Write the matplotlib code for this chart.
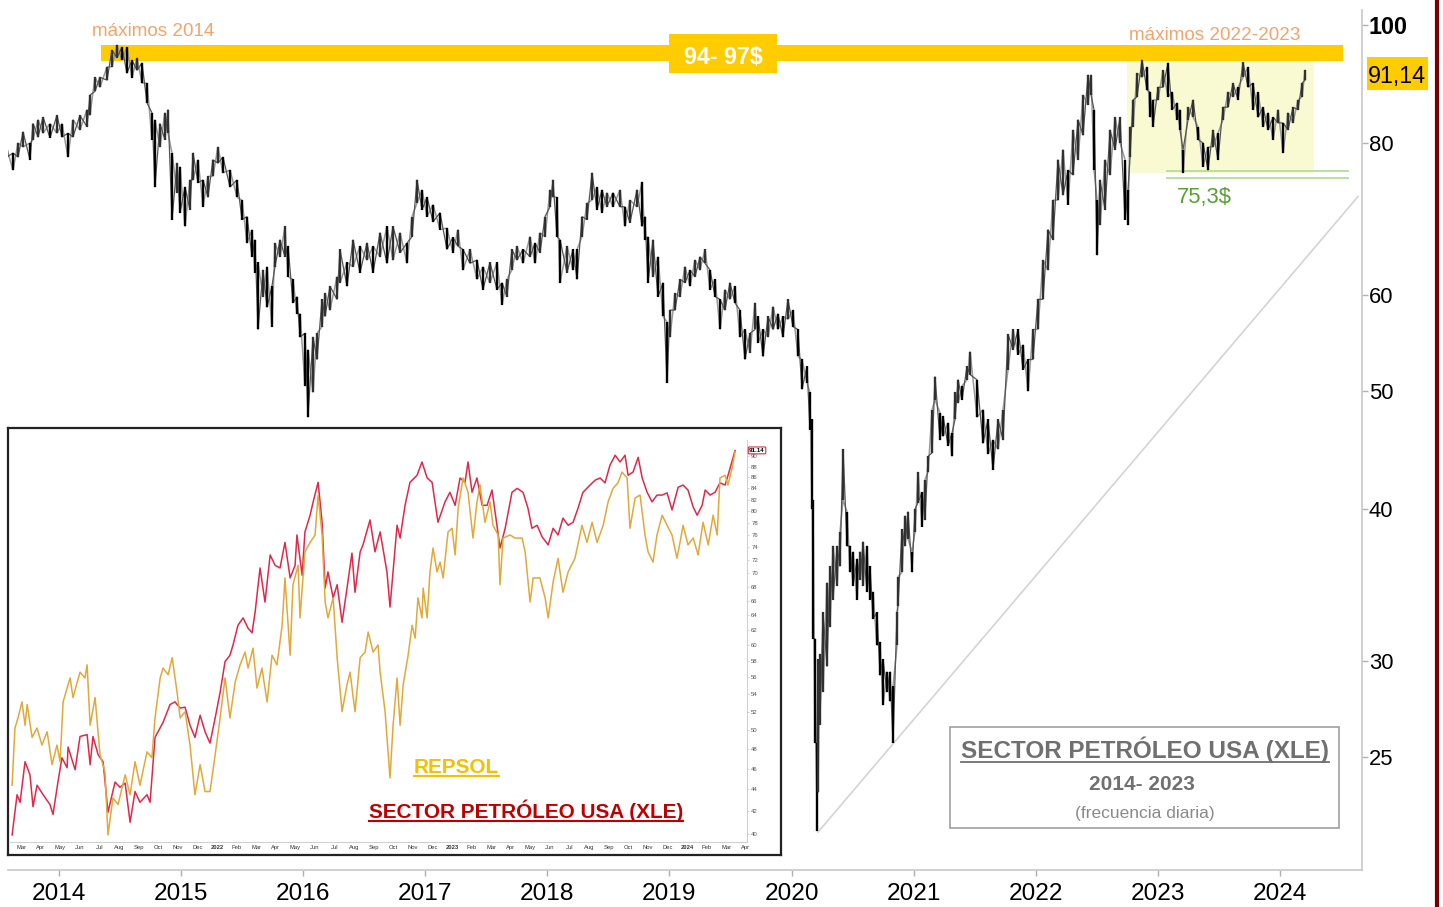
import numpy as np
import matplotlib
matplotlib.use('Agg')
import matplotlib.pyplot as plt
from matplotlib import font_manager
from matplotlib.patches import Rectangle
from matplotlib.lines import Line2D
from matplotlib.ticker import NullLocator

# ---------------- datos: XLE diario (max / min aprox.) ----------------
xle_t = [2013.577, 2013.626, 2013.667, 2013.708, 2013.765, 2013.790, 2013.831, 2013.872, 2013.929, 2013.986,
         2014.027, 2014.076, 2014.117, 2014.174, 2014.232, 2014.256, 2014.297, 2014.338, 2014.396, 2014.436,
         2014.477, 2014.518, 2014.559, 2014.600, 2014.641, 2014.682, 2014.723, 2014.764, 2014.788, 2014.829,
         2014.870, 2014.895, 2014.928, 2014.969, 2014.993, 2015.034, 2015.075, 2015.100, 2015.141, 2015.182,
         2015.222, 2015.263, 2015.304, 2015.345, 2015.403, 2015.460, 2015.501, 2015.542, 2015.583, 2015.607,
         2015.632, 2015.673, 2015.706, 2015.746, 2015.771, 2015.812, 2015.853, 2015.878, 2015.918, 2015.951,
         2015.976, 2016.017, 2016.041, 2016.082, 2016.115, 2016.156, 2016.181, 2016.221, 2016.279, 2016.303,
         2016.361, 2016.410, 2016.467, 2016.524, 2016.574, 2016.631, 2016.688, 2016.737, 2016.795, 2016.852,
         2016.893, 2016.934, 2016.975, 2017.016, 2017.065, 2017.122, 2017.179, 2017.228, 2017.269, 2017.310,
         2017.368, 2017.425, 2017.474, 2017.531, 2017.589, 2017.630, 2017.670, 2017.711, 2017.752, 2017.802,
         2017.859, 2017.900, 2017.941, 2017.982, 2018.023, 2018.047, 2018.080, 2018.105, 2018.162, 2018.211,
         2018.244, 2018.285, 2018.326, 2018.367, 2018.407, 2018.448, 2018.489, 2018.538, 2018.596, 2018.636,
         2018.677, 2018.735, 2018.776, 2018.800, 2018.825, 2018.866, 2018.907, 2018.948, 2018.981, 2019.005,
         2019.046, 2019.087, 2019.128, 2019.169, 2019.210, 2019.251, 2019.292, 2019.333, 2019.374, 2019.415,
         2019.455, 2019.496, 2019.537, 2019.578, 2019.619, 2019.660, 2019.701, 2019.726, 2019.767, 2019.808,
         2019.849, 2019.889, 2019.930, 2019.971, 2020.012, 2020.053, 2020.086, 2020.127, 2020.151, 2020.168,
         2020.176, 2020.192, 2020.209, 2020.217, 2020.233, 2020.258, 2020.291, 2020.315, 2020.340, 2020.373,
         2020.397, 2020.422, 2020.455, 2020.479, 2020.504, 2020.537, 2020.561, 2020.586, 2020.618, 2020.643,
         2020.667, 2020.700, 2020.725, 2020.749, 2020.782, 2020.807, 2020.831, 2020.864, 2020.872, 2020.905,
         2020.930, 2020.954, 2020.987, 2021.011, 2021.036, 2021.069, 2021.093, 2021.118, 2021.151, 2021.175,
         2021.216, 2021.241, 2021.282, 2021.314, 2021.339, 2021.364, 2021.396, 2021.437, 2021.462, 2021.519,
         2021.568, 2021.609, 2021.650, 2021.691, 2021.732, 2021.773, 2021.814, 2021.855, 2021.896, 2021.937,
         2021.977, 2022.018, 2022.059, 2022.100, 2022.141, 2022.182, 2022.223, 2022.264, 2022.305, 2022.346,
         2022.387, 2022.428, 2022.453, 2022.477, 2022.502, 2022.526, 2022.567, 2022.608, 2022.649, 2022.690,
         2022.731, 2022.755, 2022.772, 2022.796, 2022.829, 2022.870, 2022.911, 2022.936, 2022.960, 2023.001,
         2023.042, 2023.083, 2023.116, 2023.157, 2023.181, 2023.206, 2023.247, 2023.288, 2023.329, 2023.370,
         2023.410, 2023.451, 2023.492, 2023.533, 2023.574, 2023.615, 2023.656, 2023.697, 2023.738, 2023.779,
         2023.820, 2023.861, 2023.902, 2023.943, 2023.984, 2024.025, 2024.065, 2024.106, 2024.147, 2024.180,
         2024.205]
xle_hi = [79.0, 78.5, 80.0, 81.7, 80.0, 83.0, 83.6, 84.0, 83.0, 84.3,
          83.0, 81.5, 83.6, 84.3, 85.2, 87.6, 90.6, 90.6, 92.4, 95.4,
          96.3, 95.9, 95.9, 93.6, 94.0, 93.1, 89.6, 84.7, 83.6, 83.0,
          84.7, 85.2, 78.5, 77.0, 76.5, 73.6, 74.6, 78.5, 77.5, 74.6,
          75.1, 77.5, 79.4, 77.9, 76.0, 74.6, 71.8, 69.6, 67.9, 66.6,
          63.8, 62.9, 63.3, 61.0, 66.2, 66.6, 68.3, 65.8, 61.8, 59.8,
          57.9, 55.8, 54.1, 55.4, 55.8, 59.5, 60.2, 61.0, 62.1, 65.4,
          63.8, 66.6, 65.8, 66.2, 65.8, 67.5, 68.3, 68.3, 67.5, 66.2,
          69.6, 74.6, 73.2, 72.2, 71.2, 70.1, 68.1, 66.9, 67.9, 65.4,
          65.4, 64.1, 63.3, 63.8, 63.8, 61.4, 61.8, 65.4, 65.8, 65.4,
          67.0, 66.2, 67.5, 69.6, 73.2, 74.6, 72.2, 66.6, 65.8, 65.4,
          65.4, 69.6, 71.4, 75.6, 73.6, 73.2, 72.8, 72.8, 73.2, 70.9,
          71.8, 73.2, 74.3, 69.6, 67.0, 66.6, 64.5, 61.4, 57.0, 58.3,
          60.2, 61.8, 63.3, 62.9, 64.1, 64.5, 65.4, 62.9, 61.8, 59.5,
          60.6, 61.4, 61.0, 58.3, 56.2, 55.8, 59.1, 57.6, 56.2, 57.6,
          58.7, 57.9, 57.6, 59.5, 58.3, 56.2, 53.1, 52.4, 49.9, 47.4,
          40.7, 31.3, 25.7, 30.1, 30.4, 32.9, 34.8, 35.9, 37.3, 37.3,
          38.3, 44.8, 39.8, 37.3, 36.9, 36.4, 36.9, 37.6, 37.3, 35.9,
          34.2, 32.9, 31.1, 30.1, 29.4, 29.4, 28.6, 32.9, 35.2, 38.5,
          39.5, 39.8, 36.9, 40.0, 42.9, 41.3, 42.3, 44.2, 48.3, 51.4,
          48.0, 47.7, 47.1, 46.2, 49.9, 51.1, 50.5, 52.4, 53.9, 51.1,
          48.3, 47.4, 45.6, 47.4, 48.3, 55.7, 56.2, 56.2, 54.6, 53.1,
          56.2, 59.5, 64.1, 67.9, 71.8, 77.5, 79.0, 76.0, 82.0, 83.6,
          87.6, 91.0, 91.0, 85.2, 71.8, 74.6, 77.5, 82.0, 84.0, 84.0,
          77.5, 73.2, 82.5, 86.8, 91.3, 93.6, 92.4, 88.1, 86.8, 88.9,
          91.8, 93.1, 88.1, 86.3, 85.2, 79.0, 85.6, 86.8, 82.5, 80.0,
          79.4, 82.0, 81.5, 85.6, 88.1, 89.6, 88.9, 93.2, 92.4, 89.6,
          88.1, 85.6, 84.7, 84.0, 85.2, 83.1, 84.7, 85.6, 86.8, 89.6,
          91.8]
xle_lo = [77.9, 76.0, 77.9, 79.4, 77.5, 80.5, 80.9, 81.5, 80.8, 81.5,
          80.9, 77.9, 80.9, 82.0, 82.5, 84.3, 88.2, 88.9, 90.1, 92.4,
          94.0, 93.6, 91.3, 90.5, 91.8, 89.6, 86.3, 80.5, 73.6, 79.4,
          80.5, 81.5, 69.2, 72.8, 70.1, 68.3, 70.5, 74.6, 74.2, 70.9,
          72.2, 75.1, 77.0, 75.6, 73.6, 72.2, 69.2, 66.2, 64.5, 62.6,
          56.2, 59.8, 58.6, 56.5, 63.3, 64.5, 64.5, 62.1, 59.1, 57.9,
          55.4, 50.5, 47.6, 49.9, 53.1, 56.5, 57.6, 58.3, 59.5, 61.4,
          61.0, 63.3, 62.6, 64.1, 62.6, 64.5, 63.7, 64.1, 65.0, 63.7,
          67.0, 71.4, 70.5, 69.6, 68.9, 67.9, 65.4, 65.0, 65.8, 62.9,
          63.7, 61.8, 60.6, 61.4, 60.6, 58.9, 59.8, 62.9, 64.1, 63.7,
          64.5, 63.7, 65.0, 67.0, 70.9, 72.2, 67.0, 61.4, 62.6, 62.9,
          61.8, 67.0, 69.2, 71.8, 70.5, 70.1, 70.9, 70.9, 70.9, 68.3,
          68.8, 70.9, 68.3, 66.6, 61.4, 62.1, 59.8, 57.6, 50.8, 55.4,
          58.3, 59.8, 61.4, 61.0, 62.1, 62.9, 63.7, 60.6, 59.8, 56.2,
          58.3, 59.5, 59.1, 55.4, 53.1, 53.8, 56.2, 54.8, 53.4, 55.4,
          56.2, 56.2, 55.4, 57.3, 56.5, 53.4, 50.2, 50.8, 46.5, 40.0,
          31.3, 25.7, 21.75, 23.4, 26.6, 28.3, 29.7, 32.0, 33.7, 34.6,
          35.9, 40.7, 37.3, 35.5, 34.6, 33.7, 35.0, 34.6, 34.2, 33.7,
          32.5, 30.9, 29.2, 27.6, 28.3, 27.8, 25.7, 30.9, 33.3, 35.5,
          37.3, 37.8, 35.5, 38.3, 40.5, 38.7, 39.2, 42.9, 44.5, 49.2,
          45.6, 45.9, 45.1, 44.2, 47.4, 48.9, 49.2, 51.1, 51.6, 47.6,
          45.3, 44.4, 43.1, 44.8, 45.6, 52.1, 54.1, 53.6, 52.1, 50.0,
          53.1, 56.2, 59.5, 62.9, 66.6, 71.8, 72.5, 71.2, 75.3, 77.5,
          81.2, 86.0, 87.6, 76.0, 64.7, 68.5, 70.5, 75.3, 79.0, 80.0,
          69.2, 68.5, 77.9, 82.5, 87.3, 90.6, 88.4, 84.0, 82.5, 86.8,
          88.9, 87.3, 85.2, 83.6, 82.0, 75.6, 83.6, 84.0, 80.5, 76.5,
          76.0, 79.4, 77.5, 83.6, 85.6, 87.3, 86.8, 90.6, 88.9, 85.2,
          84.0, 82.5, 82.0, 80.5, 83.1, 78.5, 82.0, 83.1, 85.2, 87.3,
          90.1]

year_ticks = [2014, 2015, 2016, 2017, 2018, 2019, 2020, 2021, 2022, 2023, 2024]
price_ticks = [25, 30, 40, 50, 60, 80, 100]
last_price = 91.14

# zona de maximos (94-97$) y soporte 2022-2023
band_lo, band_hi = 93.4, 96.3
band_start, band_end = 2014.346, 2024.516
range_start, range_end, range_lo = 2022.747, 2024.280, 75.6
support_levels = [75.9, 74.9]
support_start, support_end = 2023.077, 2024.557
trend_t = [2020.217, 2024.639]
trend_v = [21.7, 72.3]

# ---------------- datos del recuadro: XLE vs REPSOL (escala del recuadro) ----------------
ins_xle_t = [2021.128, 2021.149, 2021.162, 2021.183, 2021.204, 2021.217, 2021.234, 2021.260, 2021.289, 2021.302,
             2021.323, 2021.340, 2021.362, 2021.366, 2021.396, 2021.417, 2021.447, 2021.460, 2021.472, 2021.494,
             2021.515, 2021.536, 2021.566, 2021.587, 2021.609, 2021.630, 2021.651, 2021.672, 2021.702, 2021.715,
             2021.736, 2021.770, 2021.800, 2021.821, 2021.843, 2021.864, 2021.885, 2021.906, 2021.928, 2021.949,
             2021.970, 2021.992, 2022.013, 2022.034, 2022.055, 2022.068, 2022.089, 2022.111, 2022.132, 2022.149,
             2022.162, 2022.183, 2022.204, 2022.226, 2022.247, 2022.268, 2022.289, 2022.311, 2022.332, 2022.340,
             2022.362, 2022.374, 2022.396, 2022.409, 2022.430, 2022.447, 2022.460, 2022.472, 2022.494, 2022.511,
             2022.532, 2022.553, 2022.574, 2022.587, 2022.609, 2022.621, 2022.651, 2022.672, 2022.694, 2022.723,
             2022.736, 2022.766, 2022.779, 2022.800, 2022.821, 2022.851, 2022.872, 2022.894, 2022.915, 2022.940,
             2022.970, 2022.991, 2023.013, 2023.034, 2023.055, 2023.068, 2023.085, 2023.106, 2023.128, 2023.149,
             2023.170, 2023.191, 2023.204, 2023.226, 2023.255, 2023.277, 2023.302, 2023.323, 2023.340, 2023.362,
             2023.383, 2023.409, 2023.430, 2023.451, 2023.472, 2023.494, 2023.515, 2023.536, 2023.557, 2023.587,
             2023.609, 2023.630, 2023.651, 2023.672, 2023.694, 2023.715, 2023.736, 2023.749, 2023.770, 2023.792,
             2023.809, 2023.830, 2023.851, 2023.872, 2023.894, 2023.915, 2023.936, 2023.962, 2023.983, 2024.004,
             2024.026, 2024.043, 2024.064, 2024.077, 2024.098, 2024.119, 2024.140, 2024.162, 2024.183, 2024.204]
ins_xle_v = [39.9, 43.5, 42.8, 46.7, 45.4, 42.4, 44.4, 43.5, 42.6, 41.7,
             44.7, 47.1, 46.1, 48.2, 45.9, 49.3, 49.5, 46.4, 49.3, 47.4,
             46.7, 41.9, 44.7, 44.2, 44.6, 41.0, 43.8, 42.8, 43.5, 42.8,
             49.2, 50.8, 52.8, 53.1, 52.4, 52.5, 50.5, 49.2, 51.6, 49.8,
             48.6, 51.3, 54.2, 57.9, 58.7, 60.0, 62.6, 63.6, 62.2, 61.6,
             64.4, 70.8, 65.8, 72.8, 71.2, 70.8, 74.8, 69.3, 71.2, 76.0,
             69.7, 76.5, 79.3, 81.6, 85.1, 78.1, 67.8, 70.2, 66.4, 68.3,
             63.0, 67.8, 73.1, 67.2, 73.3, 74.4, 78.5, 73.3, 76.5, 70.2,
             65.1, 77.6, 75.5, 81.0, 85.1, 86.4, 88.9, 85.9, 85.1, 78.1,
             81.6, 83.3, 81.0, 85.9, 85.1, 88.9, 83.3, 85.9, 81.0, 81.0,
             83.7, 77.6, 73.9, 77.1, 83.3, 84.0, 83.3, 80.5, 77.1, 77.6,
             75.7, 74.4, 77.1, 76.0, 78.8, 77.6, 78.1, 80.5, 83.3, 84.6,
             85.5, 85.9, 85.0, 88.3, 90.2, 88.9, 90.2, 86.4, 87.0, 89.8,
             85.9, 83.3, 81.6, 82.8, 82.8, 83.2, 80.2, 84.2, 84.6, 83.7,
             80.7, 79.3, 81.0, 83.7, 82.8, 83.3, 85.0, 84.6, 87.7, 91.1]
ins_rep_t = [2021.128, 2021.140, 2021.153, 2021.170, 2021.183, 2021.192, 2021.213, 2021.234, 2021.255, 2021.277,
             2021.298, 2021.319, 2021.332, 2021.345, 2021.366, 2021.375, 2021.387, 2021.417, 2021.438, 2021.447,
             2021.460, 2021.481, 2021.502, 2021.523, 2021.536, 2021.557, 2021.579, 2021.609, 2021.630, 2021.651,
             2021.672, 2021.702, 2021.723, 2021.736, 2021.758, 2021.770, 2021.792, 2021.809, 2021.830, 2021.843,
             2021.864, 2021.885, 2021.906, 2021.928, 2021.949, 2021.970, 2021.992, 2022.013, 2022.034, 2022.055,
             2022.077, 2022.098, 2022.119, 2022.132, 2022.153, 2022.170, 2022.191, 2022.213, 2022.234, 2022.255,
             2022.277, 2022.289, 2022.311, 2022.323, 2022.345, 2022.353, 2022.374, 2022.396, 2022.417, 2022.430,
             2022.447, 2022.460, 2022.472, 2022.494, 2022.511, 2022.532, 2022.553, 2022.566, 2022.587, 2022.609,
             2022.630, 2022.643, 2022.664, 2022.685, 2022.694, 2022.715, 2022.736, 2022.749, 2022.766, 2022.779,
             2022.792, 2022.813, 2022.830, 2022.843, 2022.855, 2022.872, 2022.877, 2022.894, 2022.906, 2022.919,
             2022.936, 2022.949, 2022.962, 2022.983, 2023.000, 2023.013, 2023.026, 2023.047, 2023.068, 2023.089,
             2023.106, 2023.119, 2023.140, 2023.162, 2023.174, 2023.196, 2023.204, 2023.217, 2023.247, 2023.268,
             2023.298, 2023.311, 2023.332, 2023.345, 2023.374, 2023.396, 2023.409, 2023.430, 2023.451, 2023.472,
             2023.494, 2023.523, 2023.553, 2023.574, 2023.596, 2023.617, 2023.643, 2023.664, 2023.685, 2023.706,
             2023.723, 2023.745, 2023.757, 2023.779, 2023.800, 2023.821, 2023.834, 2023.855, 2023.872, 2023.894,
             2023.915, 2023.936, 2023.957, 2023.970, 2023.983, 2024.004, 2024.026, 2024.047, 2024.068, 2024.090,
             2024.111, 2024.128, 2024.140, 2024.162, 2024.174, 2024.191, 2024.204]
ins_rep_v = [44.4, 50.2, 51.3, 53.1, 50.5, 52.8, 49.2, 50.2, 48.4, 49.8,
             46.4, 48.4, 46.7, 53.1, 55.1, 55.9, 53.6, 56.6, 55.9, 57.5,
             50.5, 53.6, 47.4, 45.7, 39.9, 43.2, 42.6, 45.4, 43.5, 46.7,
             44.4, 47.7, 47.1, 51.3, 55.9, 57.1, 56.3, 58.4, 54.2, 51.3,
             52.0, 48.4, 43.5, 46.4, 43.8, 43.8, 47.4, 51.3, 55.9, 51.3,
             55.4, 57.5, 59.1, 57.1, 59.6, 54.7, 57.1, 53.1, 58.7, 57.5,
             62.6, 69.3, 58.7, 68.3, 71.2, 63.6, 73.3, 74.8, 76.0, 82.8,
             76.0, 65.8, 63.6, 66.4, 58.4, 52.0, 55.1, 56.6, 52.0, 58.4,
             59.1, 61.7, 59.1, 60.0, 56.6, 52.0, 45.1, 50.5, 55.9, 50.5,
             55.1, 58.7, 62.6, 60.9, 66.4, 63.6, 67.8, 63.6, 70.2, 73.9,
             70.2, 71.7, 69.3, 76.5, 77.1, 72.8, 80.5, 85.9, 83.3, 75.5,
             81.6, 84.6, 78.1, 81.6, 77.6, 76.0, 68.3, 75.5, 76.0, 75.5,
             75.5, 73.3, 65.8, 69.3, 69.3, 66.4, 63.6, 68.7, 72.3, 67.2,
             70.2, 72.3, 77.6, 74.8, 78.1, 74.8, 77.6, 81.6, 84.0, 85.0,
             87.0, 85.9, 77.1, 82.3, 82.8, 76.0, 73.3, 71.7, 76.0, 79.3,
             77.6, 76.0, 72.3, 74.8, 77.6, 74.4, 75.5, 72.8, 78.1, 74.4,
             79.3, 76.0, 85.9, 86.4, 84.6, 87.7, 90.8]
ins_ticks = list(range(40, 91, 2))
month_names = ['Jan', 'Feb', 'Mar', 'Apr', 'May', 'Jun', 'Jul', 'Aug', 'Sep', 'Oct', 'Nov', 'Dec']

# ---------------- fuentes ----------------
names = {f.name for f in font_manager.fontManager.ttflist}
NARROW = 'Liberation Sans Narrow' in names
FN = 'Liberation Sans Narrow' if NARROW else 'Liberation Sans'
SC = 1.0 if NARROW else 0.88
plt.rcParams['font.family'] = [FN, 'DejaVu Sans']

W, H = 1443, 907
fig = plt.figure(figsize=(W / 100, H / 100), dpi=100)
fig.patch.set_facecolor('white')


def fx(px):
    return px / W


def fy(py):
    return 1 - py / H


# ---------------- grafico principal ----------------
ax = fig.add_axes([fx(8), fy(870), (1362 - 8) / W, (870 - 10) / H])
ax.set_yscale('log')
ax.set_xlim(2013.585, 2024.671)
ax.set_ylim(20.2, 102.9)

t = np.array(xle_t)
hi = np.array(xle_hi)
lo = np.array(xle_lo)
mid = (hi + lo) / 2
up = np.r_[False, np.diff(mid) > 0]

ax.fill_between([band_start, band_end], band_lo, band_hi, color='#FFCC00', lw=0, zorder=1)
ax.fill_between([range_start, range_end], range_lo, band_lo, color='#FAFAD2', lw=0, zorder=1)
for lvl in support_levels:
    ax.plot([support_start, support_end], [lvl, lvl], color='#B8E0A0', lw=1.4, zorder=2)
ax.plot(trend_t, trend_v, color='#D4D4D4', lw=1.2, zorder=2)

# barras: zigzag entre maximos y minimos + barras verticales
zig = np.where(np.arange(len(t)) % 2 == 0, hi, lo)
ax.plot(t, zig, color='#9a9a9a', lw=1.1, zorder=3)
zig2 = np.where(np.arange(len(t)) % 2 == 0, lo, hi)
ax.plot(t, zig2, color='#555555', lw=0.9, zorder=3)
ax.vlines(t[~up], lo[~up], hi[~up], color='black', lw=1.7, zorder=4)
ax.vlines(t[up], lo[up], hi[up], color='#303030', lw=1.7, zorder=4)

for s in ['top', 'left']:
    ax.spines[s].set_visible(False)
for s in ['right', 'bottom']:
    ax.spines[s].set_color('#C8C8C8')
    ax.spines[s].set_linewidth(1.2)

ax.yaxis.tick_right()
ax.set_yticks(price_ticks, [str(p) for p in price_ticks])
ax.yaxis.set_minor_locator(NullLocator())
ax.tick_params(axis='y', length=4, width=1, color='#B0B0B0', pad=1, labelsize=18 * SC, labelcolor='black')
ax.get_yticklabels()[-1].set_fontweight('bold')
ax.get_yticklabels()[-1].set_fontsize(19 * SC)
ax.set_xticks(year_ticks, [str(y) for y in year_ticks])
ax.tick_params(axis='x', length=4, width=1, color='#B0B0B0', pad=5, labelsize=20 * SC, labelcolor='black')

# ---------------- recuadro REPSOL vs XLE ----------------
box = fig.add_axes([fx(8), fy(855), (781 - 8) / W, (855 - 428) / H], zorder=5)
box.set_xticks([])
box.set_yticks([])
box.set_facecolor('white')
for s in box.spines.values():
    s.set_color('#222222')
    s.set_linewidth(1.6)

ins = fig.add_axes([fx(10), fy(842), 737 / W, 402 / H], zorder=6)
ins.patch.set_alpha(0)
ins.set_yscale('log')
ins.set_xlim(2021.119, 2024.255)
ins.set_ylim(39.3, 93.2)
ins.plot(ins_xle_t, ins_xle_v, color='#E0284A', lw=1.1)
ins.plot(ins_rep_t, ins_rep_v, color='#E2A83A', lw=1.1)
for s in ['top', 'left']:
    ins.spines[s].set_visible(False)
for s in ['right', 'bottom']:
    ins.spines[s].set_color('#D0D0D0')
    ins.spines[s].set_linewidth(0.8)
ins.yaxis.tick_right()
ins.set_yticks(ins_ticks, [str(v) for v in ins_ticks])
ins.yaxis.set_minor_locator(NullLocator())
ins.tick_params(axis='y', length=1.5, width=0.5, color='#C0C0C0', pad=1.5, labelsize=4.3,
                labelcolor='#555555')
for lab in ins.get_yticklabels():
    lab.set_family('Liberation Sans')

pos, labs = [], []
for yr in range(2021, 2025):
    for m in range(12):
        tt = yr + m / 12
        if 2021.16 <= tt <= 2024.26:
            pos.append(tt)
            labs.append(str(yr) if m == 0 else month_names[m])
ins.set_xticks(pos, labs)
ins.tick_params(axis='x', length=0, pad=2, labelsize=4.2, labelcolor='#333333')
for lab in ins.get_xticklabels():
    lab.set_family('Liberation Sans')
    if lab.get_text().isdigit():
        lab.set_fontweight('bold')
ins.text(1.003, last_price, f'{last_price:.2f}', transform=ins.get_yaxis_transform(),
         fontsize=4.5, fontweight='bold', family='Liberation Sans', va='center', ha='left',
         bbox=dict(boxstyle='round,pad=0.15', fc='white', ec='#E0284A', lw=0.8))

# ---------------- textos y etiquetas ----------------
fig.add_artist(Rectangle((fx(669), fy(73)), 108 / W, 39 / H, transform=fig.transFigure,
                         facecolor='#FFCC00', edgecolor='none', zorder=10))
fig.text(fx(723), fy(64), '94- 97$', color='white', fontsize=19 * SC, fontweight='bold',
         ha='center', va='baseline', zorder=11)
fig.text(fx(92), fy(36), 'máximos 2014', color='#F4A46A', fontsize=15.5 * SC, ha='left', va='baseline', zorder=11)
fig.text(fx(1129), fy(40), 'máximos 2022-2023', color='#F4A46A', fontsize=15.5 * SC, ha='left',
         va='baseline', zorder=11)
fig.text(fx(1177), fy(203), '75,3$', color='#5AA032', fontsize=18 * SC, ha='left', va='baseline', zorder=11)

fig.add_artist(Rectangle((fx(1367), fy(90)), 61 / W, 33 / H, transform=fig.transFigure,
                         facecolor='#FFCC00', edgecolor='none', zorder=10))
fig.text(fx(1397), fy(83), '91,14', color='black', fontsize=19 * SC, ha='center', va='baseline', zorder=11)

underlines = []
t1 = fig.text(fx(414), fy(773), 'REPSOL', color='#F5C000', fontsize=17 * SC, fontweight='bold',
              ha='left', va='baseline', zorder=11)
underlines.append((t1, '#F5C000', 1.5, 3))
t2 = fig.text(fx(526), fy(818), 'SECTOR PETRÓLEO USA (XLE)', color='#C00000', fontsize=17 * SC,
              fontweight='bold', ha='center', va='baseline', zorder=11)
underlines.append((t2, '#C00000', 1.5, 3))

fig.add_artist(Rectangle((fx(950), fy(828)), (1339 - 950) / W, (828 - 727) / H, transform=fig.transFigure,
                         facecolor='white', edgecolor='#A0A0A0', lw=1.2, zorder=10))
t3 = fig.text(fx(1145), fy(758), 'SECTOR PETRÓLEO USA (XLE)', color='#707070', fontsize=17.5,
              fontweight='bold', family='Liberation Sans', ha='center', va='baseline', zorder=11)
underlines.append((t3, '#707070', 1.3, 4))
fig.text(fx(1142), fy(790), '2014- 2023', color='#707070', fontsize=15, fontweight='bold',
         family='Liberation Sans', ha='center', va='baseline', zorder=11)
fig.text(fx(1145), fy(818), '(frecuencia diaria)', color='#8A8A8A', fontsize=12.5,
         family='Liberation Sans', ha='center', va='baseline', zorder=11)

# borde derecho
fig.add_artist(Line2D([fx(1437), fx(1437)], [0, 1], transform=fig.transFigure, color='#7A0000', lw=3, zorder=12))

# subrayados
fig.canvas.draw()
r = fig.canvas.get_renderer()
for txt, col, lw, gap in underlines:
    bb = txt.get_window_extent(r)
    yb = fig.transFigure.transform(txt.get_position())[1] - gap
    fig.add_artist(Line2D([bb.x0 / W, bb.x1 / W], [yb / H, yb / H], transform=fig.transFigure,
                          color=col, lw=lw, zorder=12))

fig.savefig('out.png', dpi=100)
